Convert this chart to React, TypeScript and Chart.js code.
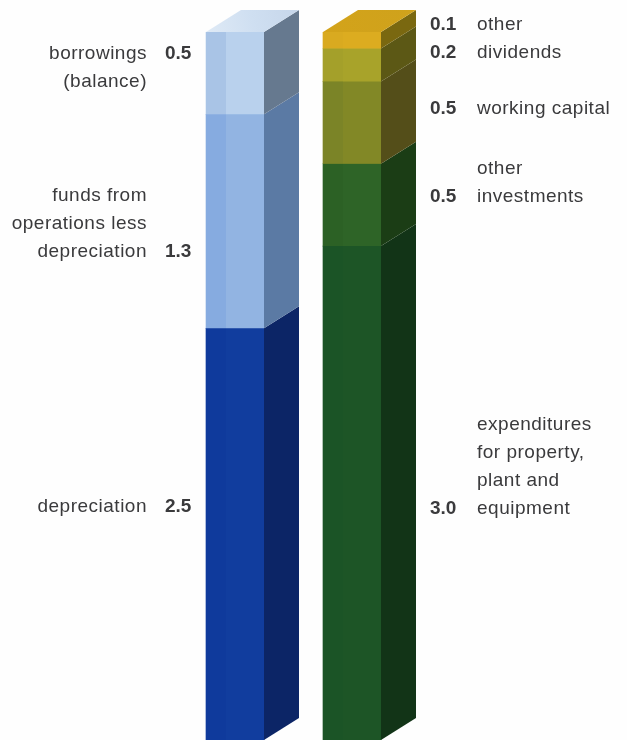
import React, { useEffect, useRef } from "react";
import { Chart, registerables } from "chart.js";

Chart.register(...registerables);

const categories = ["sources", "uses"];
const sourceNames = ["depreciation", "funds from operations less depreciation", "borrowings (balance)"];
const sourceValues = [2.5, 1.3, 0.5];
const useNames = ["expenditures for property, plant and equipment", "other investments", "working capital", "dividends", "other"];
const useValues = [3.0, 0.5, 0.5, 0.2, 0.1];

const sourceLabelLines = [["depreciation"], ["funds from", "operations less", "depreciation"], ["borrowings", "(balance)"]];
const useLabelLines = [["expenditures", "for property,", "plant and", "equipment"], ["other", "investments"], ["working capital"], ["dividends"], ["other"]];

// drawing styles and layout (not data)
const sourceFront = [["#0f3a9c", "#113d9e"], ["#86abe0", "#92b4e2"], ["#a9c4e6", "#b9d1ed"]];
const sourceSide = ["#0c2566", "#5b7aa4", "#66798f"];
const useFront = [["#1b5426", "#1d5526"], ["#2c6125", "#2e6427"], ["#7b8427", "#828826"], ["#a4a02a", "#a8a32a"], ["#d9aa20", "#dcac20"]];
const useSide = ["#123417", "#1b3d15", "#544e19", "#5c5815", "#7a6810"];
const DEPTH_X = 35;
const DEPTH_Y = 22;
// baseline of the last (value) line of every label block
const sourceBaselines = [512, 257, 59];
const useBaselines = [514, 202, 114, 58, 30];
const LINE = 28;
const TEXT = "#3a3a3c";
const FONT = '"Liberation Sans", Arial, sans-serif';

function flat(ctx: CanvasRenderingContext2D, pts: number[][], fill: string | CanvasGradient) {
  ctx.beginPath();
  pts.forEach((p, i) => (i ? ctx.lineTo(p[0], p[1]) : ctx.moveTo(p[0], p[1])));
  ctx.closePath();
  ctx.fillStyle = fill;
  ctx.fill();
}

const solidPlugin = {
  id: "solid",
  afterDatasetsDraw(chart: any) {
    const ctx: CanvasRenderingContext2D = chart.ctx;
    ctx.save();
    const groups = [
      { start: 0, count: sourceValues.length, cat: 0, side: sourceSide, front: sourceFront },
      { start: sourceValues.length, count: useValues.length, cat: 1, side: useSide, front: useFront },
    ];
    groups.forEach((g) => {
      for (let i = 0; i < g.count; i++) {
        const el = chart.getDatasetMeta(g.start + i).data[g.cat];
        const l = el.x - el.width / 2;
        const r = el.x + el.width / 2;
        const top = el.y;
        const base = el.base;
        const stripe = 20;
        flat(ctx, [[l, top], [l + stripe, top], [l + stripe, base], [l, base]], g.front[i][0]);
        flat(ctx, [[l + stripe, top], [r, top], [r, base], [l + stripe, base]], g.front[i][1]);
        flat(ctx, [[r, top], [r + DEPTH_X, top - DEPTH_Y], [r + DEPTH_X, base - DEPTH_Y], [r, base]], g.side[i]);
        if (i === g.count - 1) {
          const grad = ctx.createLinearGradient(l, top, r + DEPTH_X, top - DEPTH_Y);
          if (g.cat === 0) {
            grad.addColorStop(0, "#dfeaf6");
            grad.addColorStop(0.5, "#cfdff1");
            grad.addColorStop(1, "#c6d6ea");
          } else {
            grad.addColorStop(0, "#d3a31a");
            grad.addColorStop(1, "#cfa21c");
          }
          flat(ctx, [[l, top], [l + DEPTH_X, top - DEPTH_Y], [r + DEPTH_X, top - DEPTH_Y], [r, top]], grad);
        }
      }
    });

    ctx.textBaseline = "alphabetic";
    ctx.fillStyle = TEXT;
    const text = (s: string, x: number, y: number, bold: boolean, align: CanvasTextAlign) => {
      ctx.font = `${bold ? "bold " : ""}19px ${FONT}`;
      (ctx as any).letterSpacing = bold ? "0px" : "0.5px";
      ctx.textAlign = align;
      ctx.fillText(s, x, y);
    };
    sourceValues.forEach((v, i) => {
      const lines = sourceLabelLines[i];
      const valueLine = i === 2 ? 0 : lines.length - 1;
      lines.forEach((s, j) => text(s, 147, sourceBaselines[i] + (j - valueLine) * LINE, false, "right"));
      text(v.toFixed(1), 165, sourceBaselines[i], true, "left");
    });
    useValues.forEach((v, i) => {
      const lines = useLabelLines[i];
      lines.forEach((s, j) => text(s, 477, useBaselines[i] + (j - (lines.length - 1)) * LINE, false, "left"));
      text(v.toFixed(1), 430, useBaselines[i], true, "left");
    });
    ctx.restore();
  },
};

export default function App() {
  const ref = useRef<HTMLCanvasElement | null>(null);
  useEffect(() => {
    const canvas = ref.current;
    if (!canvas) return;
    const datasets = [
      ...sourceValues.map((v, i) => ({ label: sourceNames[i], data: [v, null], stack: "s", backgroundColor: sourceFront[i][1] })),
      ...useValues.map((v, i) => ({ label: useNames[i], data: [null, v], stack: "s", backgroundColor: useFront[i][1] })),
    ];
    const chart = new Chart(canvas, {
      type: "bar",
      data: { labels: categories, datasets: datasets as any },
      plugins: [solidPlugin],
      options: {
        animation: false,
        responsive: false,
        devicePixelRatio: 1,
        layout: { padding: { left: 176.5, right: 216.5, top: 32, bottom: 0 } },
        plugins: { legend: { display: false }, title: { display: false }, tooltip: { enabled: false } },
        datasets: { bar: { barThickness: 58, borderWidth: 0 } },
        scales: {
          x: { display: false, stacked: true },
          y: { display: false, stacked: true, min: 0, max: 4.3 },
        },
      } as any,
    });
    return () => chart.destroy();
  }, []);
  return (
    <div style={{ position: "fixed", left: 0, top: 0, width: 627, height: 740, background: "#fefefe" }}>
      <canvas ref={ref} width={627} height={740} style={{ display: "block", width: 627, height: 740 }} />
    </div>
  );
}
